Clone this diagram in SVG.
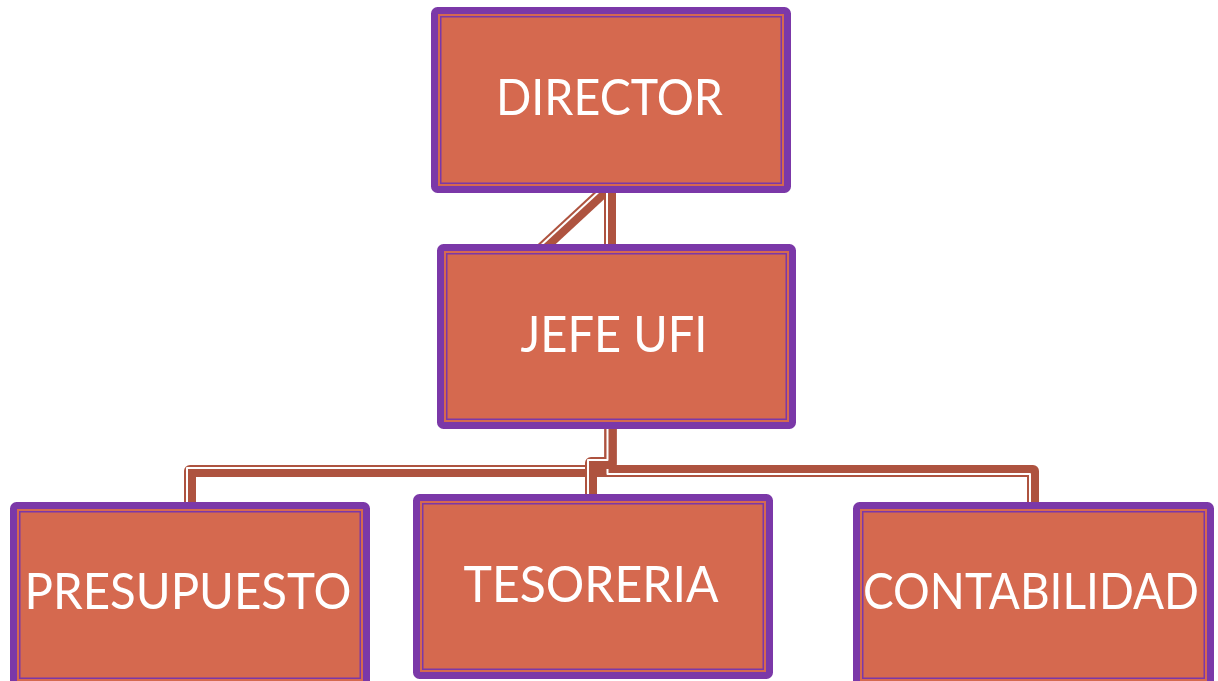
<svg xmlns="http://www.w3.org/2000/svg" width="1218" height="681" viewBox="0 0 1218 681">
  <style>
    .c { fill: none; stroke: #AE533F; stroke-width: 12; stroke-linejoin: round; }
    .w { fill: none; stroke: #FFFFFF; stroke-width: 2; stroke-linejoin: round; }
    .box { fill: #D5694F; stroke: #7B38A8; stroke-width: 7; }
    .inner { fill: none; stroke: #7B38A8; stroke-width: 1.5; }
    .lbl { font-family: Lato, "Open Sans", "Liberation Sans", sans-serif; font-size: 51px; fill: #FFFFFF; text-anchor: middle; }
  </style>
  <rect width="1218" height="681" fill="#FFFFFF"/>
  <g id="connectors">
    <path class="c" d="M610.6,185 L540.4,250"/>
    <path class="w" d="M608.6,182.8 L538.4,247.8"/>
    <path class="c" d="M610,185 V250"/>
    <path class="w" d="M607,185 V250"/>
    <path class="c" d="M610.5,425 V471 H190 V508"/>
    <path class="w" d="M607.5,425 V468 H187 V508"/>
    <path class="c" d="M610.5,425 V471 H1033 V508"/>
    <path class="w" d="M607.5,425 V474 H1030 V508"/>
    <path class="c" d="M610.5,425 V463 H591 V500"/>
    <path class="w" d="M607.5,425 V460 H588 V500"/>
  </g>
  <g id="director">
    <rect class="box" x="434.5" y="10.5" width="353" height="179" rx="3"/>
    <rect class="inner" x="440.75" y="16.75" width="340.5" height="166.5"/>
    <text class="lbl" x="609.5" y="115" textLength="227" lengthAdjust="spacingAndGlyphs">DIRECTOR</text>
  </g>
  <g id="jefe-ufi">
    <rect class="box" x="440.5" y="247.5" width="352" height="178" rx="3"/>
    <rect class="inner" x="446.75" y="253.75" width="339.5" height="165.5"/>
    <text class="lbl" x="614" y="352" textLength="187" lengthAdjust="spacingAndGlyphs">JEFE UFI</text>
  </g>
  <g id="presupuesto">
    <rect class="box" x="13.5" y="505.5" width="353" height="179" rx="3"/>
    <rect class="inner" x="19.75" y="511.75" width="340.5" height="166.5"/>
    <text class="lbl" x="188" y="609" textLength="327" lengthAdjust="spacingAndGlyphs">PRESUPUESTO</text>
  </g>
  <g id="tesoreria">
    <rect class="box" x="416.5" y="497.5" width="353" height="178" rx="3"/>
    <rect class="inner" x="422.75" y="503.75" width="340.5" height="165.5"/>
    <text class="lbl" x="591" y="602" textLength="255" lengthAdjust="spacingAndGlyphs">TESORERIA</text>
  </g>
  <g id="contabilidad">
    <rect class="box" x="856.5" y="505.5" width="354" height="179" rx="3"/>
    <rect class="inner" x="862.75" y="511.75" width="341.5" height="166.5"/>
    <text class="lbl" x="1031" y="609" textLength="336" lengthAdjust="spacingAndGlyphs">CONTABILIDAD</text>
  </g>
</svg>
